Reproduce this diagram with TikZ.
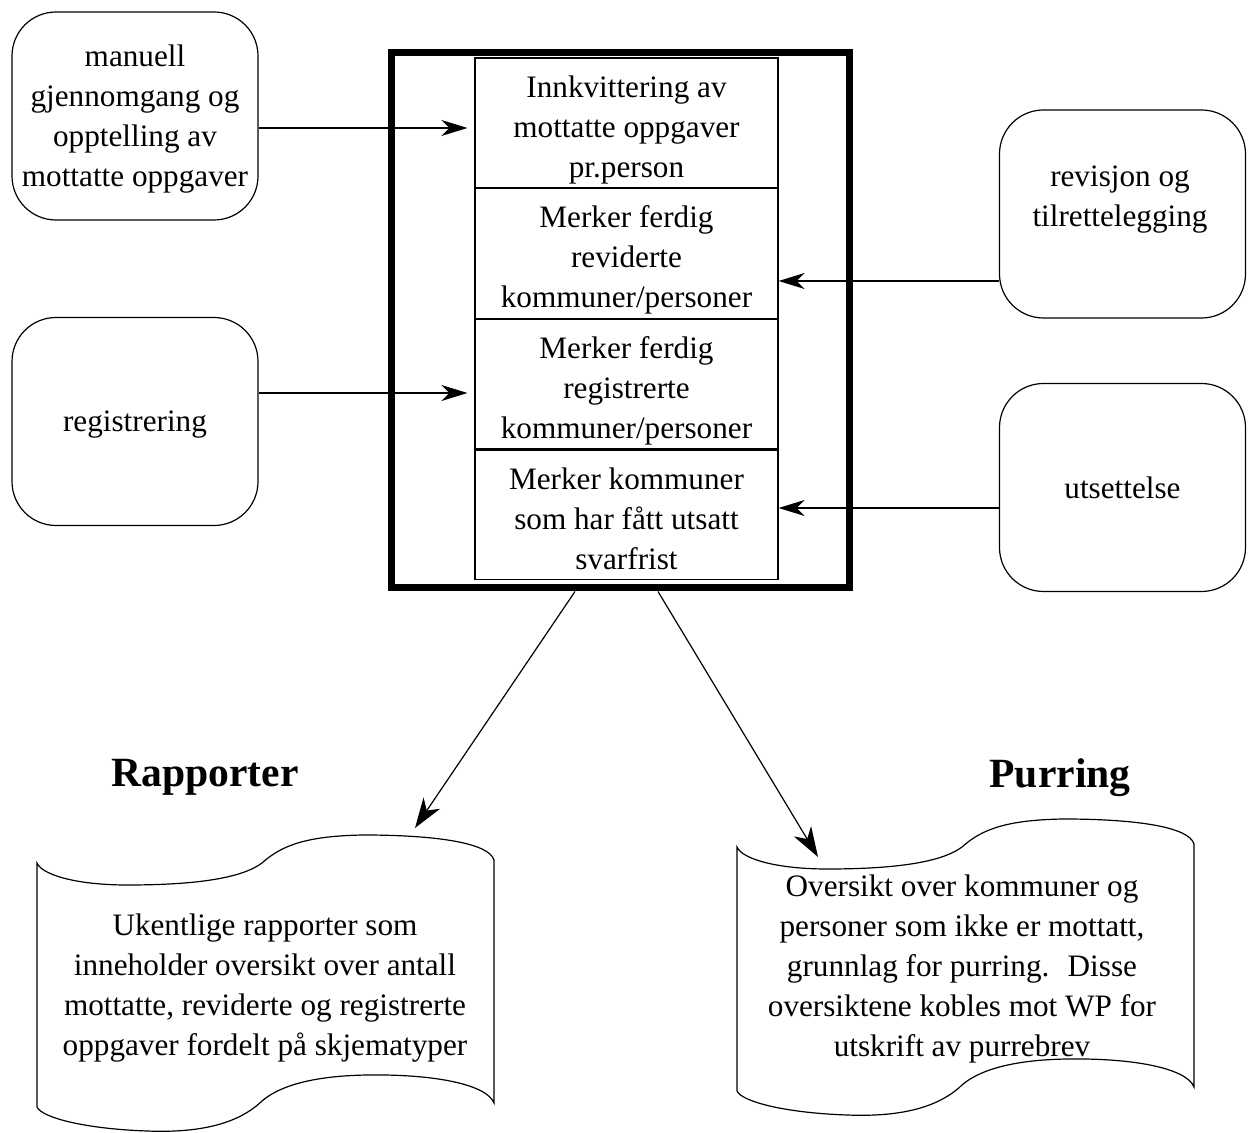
\documentclass[tikz,border=0pt]{standalone}
\usepackage{fontspec}
\setmainfont{Liberation Serif}
\usetikzlibrary{positioning,arrows.meta}

\begin{document}
\begin{tikzpicture}[x=0.5pt,y=-0.5pt]
    \tikzset{
      every node/.style={font=\fontsize{15.6}{20}\selectfont,align=center,text depth=0pt},
      flow box/.style={draw,line width=0.6pt,rounded corners=22pt,minimum width=123pt,minimum height=104pt,inner sep=2pt},
      mark box/.style={draw,line width=0.6pt,minimum width=151.5pt,minimum height=64.75pt,inner sep=2pt,text height=54.5pt},
      heading/.style={font=\fontsize{20.8}{25}\selectfont\bfseries},
      flow arrow/.style={line width=0.6pt,-{Stealth[length=13pt,width=8pt,inset=4pt]}},
      out arrow/.style={line width=0.6pt,-{Stealth[length=15pt,width=10pt,inset=4.5pt]}},
      report page/.pic={
        \draw[line width=0.6pt] (0,0) .. controls (5,12) and (40,22) .. (90,22)
          .. controls (160,22) and (205,15) .. (225,0)
          .. controls (245,-18) and (270,-27) .. (326,-28)
          .. controls (400,-28) and (452,-20) .. (457,-3)
          -- (457,240)
          .. controls (450,222) and (400,211) .. (330,212)
          .. controls (270,213) and (240,225) .. (225,238)
          .. controls (200,262) and (160,270) .. (110,268)
          .. controls (50,266) and (5,255) .. (0,244) -- cycle;
      }
    }
    \useasboundingbox (0,0) rectangle (1254,1133);

    % inputs
    \node [flow box] (manuell) at (135,116) {manuell\\gjennomgang og\\opptelling av\\mottatte oppgaver};
    \node [flow box] (registrering) at (135,421.5) {registrering};
    \node [flow box] (revisjon) at (1122.5,214) {};
    \node (revisjontekst) at (1120,196) {revisjon og\\tilrettelegging};
    \node [flow box] (utsettelse) at (1122.5,487.5) {utsettelse};

    % the register
    \node [draw,line width=3.5pt,minimum width=229pt,minimum height=267.5pt] (ramme) at (620,320.5) {};
    \node [mark box] (innkvittering) at (626.5,122.75) {Innkvittering av\\mottatte oppgaver\\pr.person};
    \node [mark box,below=0pt of innkvittering] (revidert) {Merker ferdig\\reviderte\\kommuner/personer};
    \node [mark box,below=0pt of revidert] (registrert) {Merker ferdig\\registrerte\\kommuner/personer};
    \node [mark box,below=0pt of registrert] (utsatt) {Merker kommuner\\som har fått utsatt\\svarfrist};

    \path ([yshift=-6pt]manuell.east) coordinate (manuell-ut)
          ([yshift=14.25pt]registrering.east) coordinate (registrering-ut)
          ([yshift=-33.5pt]revisjon.west) coordinate (revisjon-ut)
          ([yshift=-10.25pt]utsettelse.west) coordinate (utsettelse-ut);
    \draw [flow arrow,shorten >=3.5pt] (manuell-ut) -- (manuell-ut -| innkvittering.west);
    \draw [flow arrow,shorten >=3.5pt] (registrering-ut) -- (registrering-ut -| registrert.west);
    \draw [flow arrow] (revisjon-ut) -- (revisjon-ut -| revidert.east);
    \draw [flow arrow] (utsettelse-ut) -- (utsettelse-ut -| utsatt.east);

    % outputs
    \node [heading] (rapporter) at (205,773) {Rapporter};
    \node [heading] (purring) at (1060,773) {Purring};
    \pic (rapportside) at (37,863) {report page};
    \pic (purreside) at (737,847) {report page};
    \node (ukentlig) at (265,985) {Ukentlige rapporter som\\inneholder oversikt over antall\\mottatte, reviderte og registrerte\\oppgaver fordelt på skjematyper};
    \node (oversikt) at (962,966) {Oversikt over kommuner og\\personer som ikke er mottatt,\\grunnlag for purring.~ Disse\\oversiktene kobles mot WP for\\utskrift av purrebrev};

    \coordinate (rapport-inn) at (415,828);
    \coordinate (purring-inn) at (818,857);
    \draw [out arrow] ([xshift=-22.5pt]ramme.south) -- (rapport-inn);
    \draw [out arrow] ([xshift=19pt]ramme.south) -- (purring-inn);
  \end{tikzpicture}
\end{document}
